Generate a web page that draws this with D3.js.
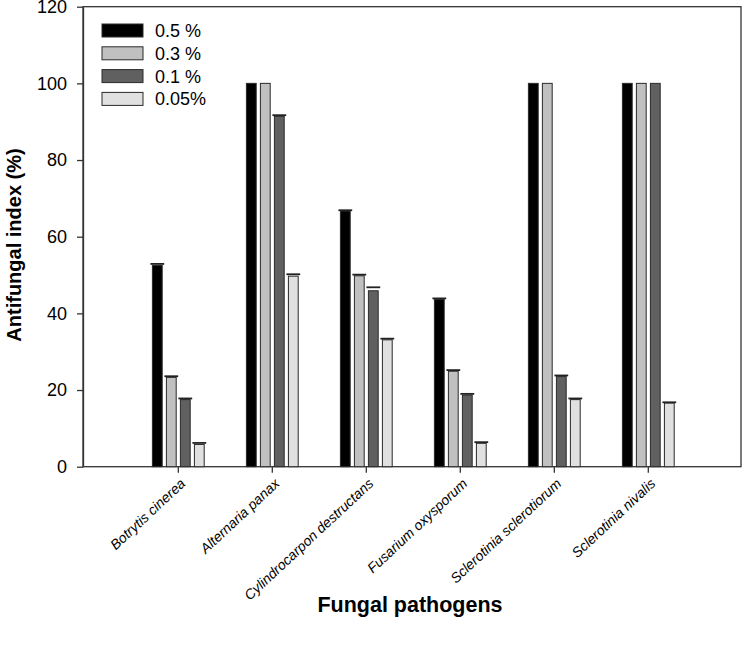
<!DOCTYPE html>
<html>
<head>
<meta charset="utf-8">
<script src="https://cdn.jsdelivr.net/npm/d3@7"></script>
<style>
  html, body { margin: 0; padding: 0; background: #fff; }
  svg { display: block; }
  text { font-family: Arial, "Liberation Sans", Helvetica, sans-serif; fill: #000; }
</style>
</head>
<body>
<svg id="chart" width="744" height="645"></svg>
<script>
// ---- Data ----
const categories = ["Botrytis cinerea", "Alternaria panax", "Cylindrocarpon destructans",
                    "Fusarium oxysporum", "Sclerotinia sclerotiorum", "Sclerotinia nivalis"];
const seriesNames = ["0.5 %", "0.3 %", "0.1 %", "0.05%"];
const values05  = [52.5, 100, 66.7, 43.6, 100, 100];
const values03  = [23.3, 100, 49.8, 24.9, 100, 100];
const values01  = [17.5, 91.4, 45.9, 18.7, 23.5, 100];
const values005 = [5.8, 49.7, 33.1, 6.1, 17.5, 16.6];
const err05  = [0.4, 0, 0.2, 0.3, 0, 0];
const err03  = [0.3, 0, 0.3, 0.3, 0, 0];
const err01  = [0.3, 0.3, 0.9, 0.3, 0.3, 0];
const err005 = [0.4, 0.5, 0.3, 0.3, 0.3, 0.2];
const yTicks = [0, 20, 40, 60, 80, 100, 120];
const seriesColors = ["#000000", "#c0c0c0", "#606060", "#e0e0e0"];

const seriesValues = [values05, values03, values01, values005];
const seriesErrors = [err05, err03, err01, err005];

// ---- Layout ----
const svg = d3.select("#chart");
const plotLeft = 83, plotRight = 741, plotTop = 6.7, plotBottom = 466.7;

const x = d3.scaleBand().domain(categories).range([131.3, 695.3]).paddingInner(0).paddingOuter(0);
const xInner = d3.scaleBand().domain(seriesNames).range([-28, 28]).paddingInner(0.3).paddingOuter(0.15);
const y = d3.scaleLinear().domain([0, 120]).range([plotBottom, plotTop]);

// frame
svg.append("rect").attr("x", plotLeft).attr("y", plotTop)
  .attr("width", plotRight - plotLeft).attr("height", plotBottom - plotTop)
  .attr("fill", "none").attr("stroke", "#333").attr("stroke-width", 1.3);

// bars
const data = [];
categories.forEach((c, i) => {
  seriesNames.forEach((s, j) => {
    data.push({cat: c, ser: s, j, v: seriesValues[j][i], e: seriesErrors[j][i]});
  });
});

const bw = xInner.bandwidth();
const g = svg.append("g");
g.selectAll("rect.bar").data(data).join("rect")
  .attr("class", "bar")
  .attr("x", d => x(d.cat) + x.bandwidth() / 2 + xInner(d.ser))
  .attr("y", d => y(d.v))
  .attr("width", bw)
  .attr("height", d => y(0) - y(d.v))
  .attr("fill", d => seriesColors[d.j])
  .attr("stroke", "#2a2a2a")
  .attr("stroke-width", 1);

// error caps
g.selectAll("line.cap").data(data.filter(d => d.e > 0)).join("line")
  .attr("class", "cap")
  .attr("x1", d => x(d.cat) + x.bandwidth() / 2 + xInner(d.ser) - 2)
  .attr("x2", d => x(d.cat) + x.bandwidth() / 2 + xInner(d.ser) + bw + 2)
  .attr("y1", d => y(d.v + d.e))
  .attr("y2", d => y(d.v + d.e))
  .attr("stroke", "#222").attr("stroke-width", 1.8);

// y axis
const yAxis = d3.axisLeft(y).tickValues(yTicks).tickSize(6).tickPadding(10).tickSizeOuter(0);
const ya = svg.append("g").attr("transform", `translate(${plotLeft},0)`).call(yAxis);
ya.select(".domain").attr("stroke", "#333").attr("stroke-width", 1.3);
ya.selectAll(".tick line").attr("stroke", "#333").attr("stroke-width", 1.3);
ya.selectAll(".tick text").style("font-size", "18px").style("font-family", "Arial, 'Liberation Sans', sans-serif");

// x axis
const xAxis = d3.axisBottom(x).tickSize(6).tickSizeOuter(0);
const xa = svg.append("g").attr("transform", `translate(0,${plotBottom})`).call(xAxis);
xa.select(".domain").remove();
xa.selectAll(".tick line").attr("stroke", "#333").attr("stroke-width", 1.3);
xa.selectAll(".tick text")
  .style("font-size", "14px").style("font-style", "italic")
  .style("font-family", "Arial, 'Liberation Sans', sans-serif")
  .attr("text-anchor", "end")
  .attr("dy", "0")
  .attr("transform", "translate(8,18) rotate(-43)")
  .attr("y", 0).attr("x", 0);

// legend
const legend = svg.append("g");
seriesNames.forEach((s, j) => {
  const ly = 24 + j * 22.8;
  legend.append("rect").attr("x", 102).attr("y", ly).attr("width", 41).attr("height", 13)
    .attr("fill", seriesColors[j]).attr("stroke", "#2a2a2a").attr("stroke-width", 1);
  legend.append("text").attr("x", 155).attr("y", ly + 6.5).attr("dy", "0.36em")
    .style("font-size", "18px").text(s);
});

// axis titles
svg.append("text")
  .attr("transform", `translate(21,245) rotate(-90)`)
  .attr("text-anchor", "middle")
  .style("font-size", "20px").style("font-weight", "bold")
  .text("Antifungal index (%)");

svg.append("text")
  .attr("x", 410).attr("y", 612)
  .attr("text-anchor", "middle")
  .style("font-size", "21.5px").style("font-weight", "bold")
  .text("Fungal pathogens");
</script>
</body>
</html>
